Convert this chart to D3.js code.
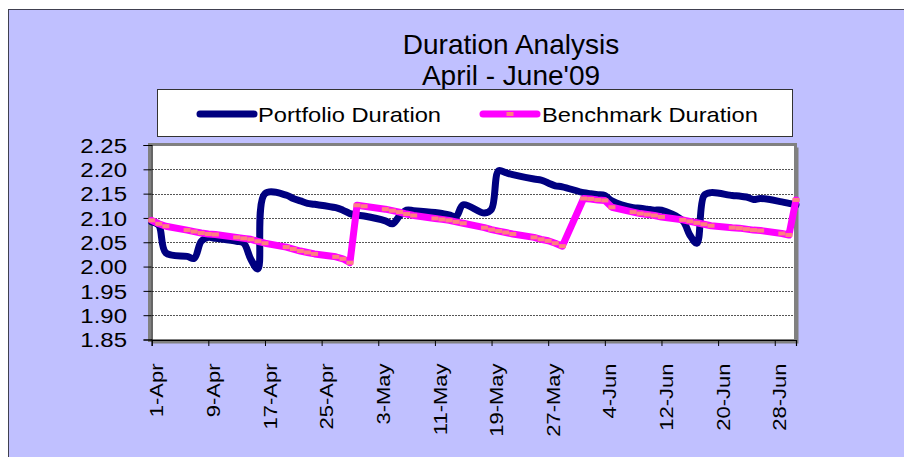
<!DOCTYPE html>
<html>
<head>
<meta charset="utf-8">
<script src="https://cdn.jsdelivr.net/npm/d3@7"></script>
<style>
html,body{margin:0;padding:0;background:#fff;}
svg{display:block;font-family:"Liberation Sans",Arial,sans-serif;}
</style>
</head>
<body>
<svg id="chart" width="904" height="457"></svg>
<script>
// ---- data ----
const titleLines = ["Duration Analysis", "April - June'09"];
const seriesNames = ["Portfolio Duration", "Benchmark Duration"];
const dates = [
  "2009-04-01","2009-04-02","2009-04-03","2009-04-06","2009-04-07","2009-04-08","2009-04-09","2009-04-10",
  "2009-04-13","2009-04-14","2009-04-15","2009-04-16","2009-04-17","2009-04-20","2009-04-21","2009-04-22",
  "2009-04-23","2009-04-24","2009-04-27","2009-04-28","2009-04-29","2009-04-30","2009-05-01","2009-05-04",
  "2009-05-05","2009-05-06","2009-05-07","2009-05-08","2009-05-11","2009-05-12","2009-05-13","2009-05-14",
  "2009-05-15","2009-05-18","2009-05-19","2009-05-20","2009-05-21","2009-05-22","2009-05-25","2009-05-26",
  "2009-05-27","2009-05-28","2009-05-29","2009-06-01","2009-06-02","2009-06-03","2009-06-04","2009-06-05",
  "2009-06-08","2009-06-09","2009-06-10","2009-06-11","2009-06-12","2009-06-15","2009-06-16","2009-06-17",
  "2009-06-18","2009-06-19","2009-06-22","2009-06-23","2009-06-24","2009-06-25","2009-06-26","2009-06-29",
  "2009-06-30","2009-07-01"
];
const portfolio = [
  2.092,2.085,2.028,2.021,2.017,2.052,2.060,2.058,
  2.052,2.048,2.015,1.995,2.150,2.147,2.140,2.135,
  2.130,2.128,2.121,2.116,2.109,2.106,2.104,2.094,
  2.088,2.104,2.116,2.115,2.111,2.109,2.106,2.103,
  2.127,2.110,2.118,2.197,2.193,2.189,2.180,2.178,
  2.172,2.166,2.164,2.152,2.150,2.148,2.146,2.135,
  2.121,2.120,2.118,2.116,2.116,2.094,2.065,2.048,
  2.146,2.152,2.146,2.145,2.143,2.138,2.140,2.133,
  2.130,2.127
];
const benchmark = [
  2.095,2.088,2.083,2.075,2.072,2.069,2.067,2.066,
  2.060,2.058,2.056,2.052,2.048,2.040,2.036,2.032,
  2.029,2.026,2.020,2.016,2.008,2.126,2.124,2.118,
  2.115,2.112,2.108,2.105,2.099,2.097,2.095,2.092,
  2.089,2.080,2.076,2.073,2.070,2.067,2.060,2.056,
  2.053,2.048,2.042,2.140,2.139,2.137,2.136,2.122,
  2.112,2.109,2.107,2.105,2.102,2.096,2.093,2.090,
  2.087,2.084,2.080,2.079,2.077,2.075,2.074,2.068,
  2.065,2.137
];
const yTicks = [1.85,1.90,1.95,2.00,2.05,2.10,2.15,2.20,2.25];
const xTickDates = ["2009-04-01","2009-04-09","2009-04-17","2009-04-25","2009-05-03","2009-05-11",
  "2009-05-19","2009-05-27","2009-06-04","2009-06-12","2009-06-20","2009-06-28"];

// ---- drawing ----
const parse = d3.timeParse("%Y-%m-%d");
const fmt = d3.timeFormat("%-d-%b");
const svg = d3.select("#chart");
const FONT = "'Liberation Sans', Arial, sans-serif";

const C = {bg:"#C0C0FF", navy:"#000080", pink:"#FF00FF", salmon:"#FF8080", frame:"#808080"};

// outer chart area
svg.append("rect").attr("x",8.5).attr("y",9.5).attr("width",900).attr("height",452)
  .attr("fill",C.bg).attr("stroke","#404050").attr("stroke-width",1);

// title
svg.selectAll("text.title").data(titleLines).enter().append("text")
  .attr("class","title").attr("x",511).attr("y",(d,i)=>53.5+i*31.5)
  .attr("text-anchor","middle").attr("font-size",28).attr("font-family",FONT)
  .attr("fill","#000").text(d=>d);

// scales
const x = d3.scaleTime().domain([parse("2009-04-01"), parse("2009-07-01")]).range([151.7, 796]);
const y = d3.scaleLinear().domain([1.85, 2.25]).range([339.5, 145]);

// plot area frame + shadow
svg.append("rect").attr("x",152.5).attr("y",147.5).attr("width",646).attr("height",196).attr("fill",C.frame);
svg.append("rect").attr("x",149.5).attr("y",144.5).attr("width",646).attr("height",196)
  .attr("fill","#fff").attr("stroke",C.frame).attr("stroke-width",3);

// gridlines
svg.append("g").selectAll("line").data(yTicks.filter(v=>v>1.86 && v<2.24)).enter().append("line")
  .attr("x1",152).attr("x2",794).attr("y1",d=>Math.round(y(d))+0.5).attr("y2",d=>Math.round(y(d))+0.5)
  .attr("stroke","#555").attr("stroke-width",1).attr("stroke-dasharray","2,1");

// y axis
const yAxis = svg.append("g").attr("transform","translate(151.5,0)")
  .call(d3.axisLeft(y).tickValues(yTicks).tickSize(8).tickFormat(d3.format(".2f")));
yAxis.select(".domain").attr("stroke","#000").attr("stroke-width",1.2);
yAxis.selectAll(".tick line").attr("stroke","#000");
yAxis.selectAll(".tick text").remove();
svg.append("g").selectAll("text").data(yTicks).enter().append("text")
  .attr("transform",d=>`translate(127,${y(d)+7.7}) scale(1,0.875)`)
  .attr("text-anchor","end").attr("font-size",24).attr("font-family",FONT).attr("fill","#000")
  .text(d3.format(".2f"));

// x axis
const xAxis = svg.append("g").attr("transform","translate(0,340)")
  .call(d3.axisBottom(x).tickValues(xTickDates.map(parse)).tickSize(6).tickFormat(""));
xAxis.select(".domain").attr("stroke","#000").attr("stroke-width",1.2);
xAxis.selectAll(".tick line").attr("stroke","#000");
svg.append("g").selectAll("text").data(xTickDates).enter().append("text")
  .attr("transform",d=>`translate(${x(parse(d))+11.6},363.5) rotate(-90) scale(1,0.85)`)
  .attr("text-anchor","end").attr("font-size",22).attr("font-family",FONT).attr("fill","#000")
  .text(d=>fmt(parse(d)));

// series
const pts = (vals)=>dates.map((d,i)=>({date:parse(d), v:vals[i]}));
const pData = pts(portfolio), bData = pts(benchmark);

svg.append("path").datum(pData)
  .attr("d", d3.line().x(d=>x(d.date)).y(d=>y(d.v)).curve(d3.curveCatmullRom.alpha(0.5)))
  .attr("fill","none").attr("stroke",C.navy).attr("stroke-width",7)
  .attr("stroke-linejoin","round").attr("stroke-linecap","round");

svg.append("path").datum(bData)
  .attr("d", d3.line().x(d=>x(d.date)).y(d=>y(d.v)))
  .attr("fill","none").attr("stroke",C.pink).attr("stroke-width",7)
  .attr("stroke-linejoin","round").attr("stroke-linecap","round");

svg.append("g").selectAll("rect").data(bData).enter().append("rect")
  .attr("x",d=>x(d.date)-3.5).attr("y",d=>y(d.v)-2).attr("width",7).attr("height",4)
  .attr("fill",C.salmon);

// legend
svg.append("rect").attr("x",157.5).attr("y",89.5).attr("width",635).attr("height",47)
  .attr("fill","#fff").attr("stroke","#333").attr("stroke-width",1);
const leg = [
  {name:seriesNames[0], x1:200, x2:254, color:C.navy, tx:258, marker:false},
  {name:seriesNames[1], x1:483, x2:537, color:C.pink, tx:542, marker:true}
];
leg.forEach(l=>{
  svg.append("line").attr("x1",l.x1).attr("x2",l.x2).attr("y1",114).attr("y2",114)
    .attr("stroke",l.color).attr("stroke-width",7).attr("stroke-linecap","round");
  if(l.marker){
    svg.append("rect").attr("x",(l.x1+l.x2)/2-3.5).attr("y",112).attr("width",7).attr("height",4).attr("fill",C.salmon);
  }
  svg.append("text").attr("transform",`translate(${l.tx},121.7) scale(1,0.86)`)
    .attr("font-size",23.7).attr("font-family",FONT).attr("fill","#000").text(l.name);
});
</script>
</body>
</html>
